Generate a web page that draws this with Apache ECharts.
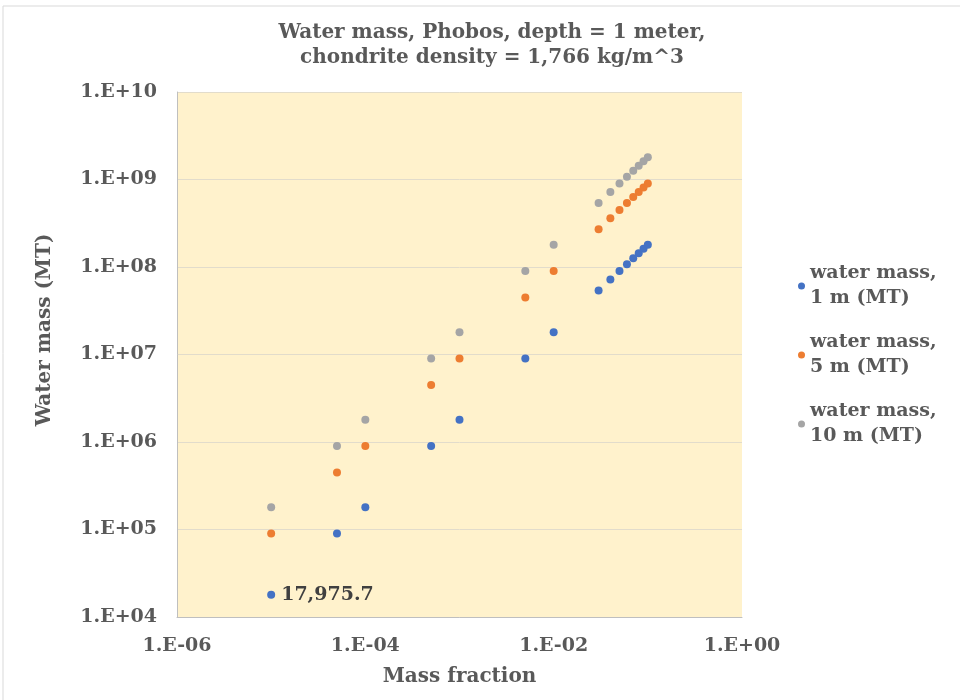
<!DOCTYPE html>
<html>
<head>
<meta charset="utf-8">
<script src="https://cdn.jsdelivr.net/npm/echarts@6/dist/echarts.min.js"></script>
<style>
html, body { margin: 0; padding: 0; background: #fff; }
#main { width: 960px; height: 700px; }
</style>
</head>
<body>
<div id="main"></div>
<script>
// mass fraction (x) and water mass in MT for each depth
var massFraction = [1e-5, 5e-5, 1e-4, 5e-4, 1e-3, 5e-3, 1e-2, 0.03, 0.04, 0.05, 0.06, 0.07, 0.08, 0.09, 0.1];
var mass1m = [17975.7, 89878, 179757, 898785, 1797570, 8987850, 17975700, 53927100, 71902800, 89878500, 107854200, 125829900, 143805600, 161781300, 179757000];
var mass5m = [89878, 449393, 898785, 4493925, 8987850, 44939250, 89878500, 269635500, 359514000, 449392500, 539271000, 629149500, 719028000, 808906500, 898785000];
var mass10m = [179757, 898785, 1797570, 8987850, 17975700, 89878500, 179757000, 539271000, 719028000, 898785000, 1078542000, 1258299000, 1438056000, 1617813000, 1797570000];
var seriesNames = ['water mass,\n1 m (MT)', 'water mass,\n5 m (MT)', 'water mass,\n10 m (MT)'];
var seriesColors = ['#4472C4', '#ED7D31', '#A5A5A5'];

var font = 'Georgia, "DejaVu Serif", serif';
var textColor = '#595959';

function pairs(ys) {
	var out = [];
	for (var i = 0; i < massFraction.length; i++) {
		out.push([massFraction[i], ys[i]]);
	}
	return out;
}

function expLabel(v) {
	var e = Math.round(Math.log10(v));
	var s = Math.abs(e) < 10 ? '0' + Math.abs(e) : '' + Math.abs(e);
	return '1.E' + (e < 0 ? '-' : '+') + s;
}

var myChart = echarts.init(document.getElementById('main'));

var option = {
	backgroundColor: '#fff',
	textStyle: { fontFamily: font },
	graphic: [
		{
			type: 'rect',
			shape: { x: 3, y: 6, width: 990, height: 720 },
			style: { fill: 'none', stroke: '#d9d9d9', lineWidth: 1 },
			silent: true
		},
		{
			// y axis title, Excel puts it a bit above the plot centre
			type: 'text',
			x: 45,
			y: 330,
			rotation: Math.PI / 2,
			style: {
				text: 'Water mass (MT)',
				fontFamily: font,
				fontSize: 20,
				fontWeight: 'bold',
				fill: textColor,
				align: 'center',
				verticalAlign: 'middle'
			}
		}
	],
	title: {
		text: 'Water mass, Phobos, depth = 1 meter,\nchondrite density = 1,766 kg/m^3',
		left: 487,
		top: 15,
		textAlign: 'center',
		textStyle: {
			fontFamily: font,
			fontSize: 20,
			fontWeight: 'bold',
			color: textColor,
			lineHeight: 25
		}
	},
	legend: {
		orient: 'vertical',
		left: 793,
		top: 256,
		itemWidth: 7,
		itemHeight: 7,
		itemGap: 19,
		icon: 'circle',
		data: seriesNames,
		textStyle: {
			fontFamily: font,
			fontSize: 19,
			fontWeight: 'bold',
			color: textColor,
			lineHeight: 25
		}
	},
	grid: {
		left: 177,
		top: 92,
		width: 565,
		height: 525,
		show: true,
		backgroundColor: '#FFF2CC',
		borderWidth: 0
	},
	xAxis: {
		type: 'log',
		logBase: 10,
		min: 1e-6,
		max: 1,
		interval: 2,
		name: 'Mass fraction',
		nameLocation: 'middle',
		nameGap: 50,
		nameTextStyle: { fontFamily: font, fontSize: 20, fontWeight: 'bold', color: textColor },
		axisLine: { show: true, lineStyle: { color: '#bfbfbf' } },
		axisTick: { show: false },
		splitLine: { show: false },
		axisLabel: {
			formatter: expLabel,
			margin: 20,
			fontFamily: font,
			fontSize: 19,
			fontWeight: 'bold',
			color: textColor
		}
	},
	yAxis: {
		type: 'log',
		logBase: 10,
		min: 1e4,
		max: 1e10,
		interval: 1,
		axisLine: { show: true, lineStyle: { color: '#bfbfbf' } },
		axisTick: { show: false },
		splitLine: { show: true, lineStyle: { color: '#e2dccb' } },
		axisLabel: {
			formatter: expLabel,
			margin: 20,
			fontFamily: font,
			fontSize: 19,
			fontWeight: 'bold',
			color: textColor
		}
	},
	series: [
		{
			name: seriesNames[0],
			type: 'scatter',
			symbolSize: 8,
			itemStyle: { color: seriesColors[0], opacity: 1 },
			data: pairs(mass1m).map(function (d, i) {
				if (i === 0) {
					return {
						value: d,
						label: {
							show: true,
							position: 'right',
							distance: 6,
							formatter: '17,975.7',
							fontFamily: font,
							fontSize: 19,
							fontWeight: 'bold',
							color: '#404040'
						}
					};
				}
				return d;
			})
		},
		{
			name: seriesNames[1],
			type: 'scatter',
			symbolSize: 8,
			itemStyle: { color: seriesColors[1], opacity: 1 },
			data: pairs(mass5m)
		},
		{
			name: seriesNames[2],
			type: 'scatter',
			symbolSize: 8,
			itemStyle: { color: seriesColors[2], opacity: 1 },
			data: pairs(mass10m)
		}
	]
};

myChart.setOption(option);
</script>
</body>
</html>
